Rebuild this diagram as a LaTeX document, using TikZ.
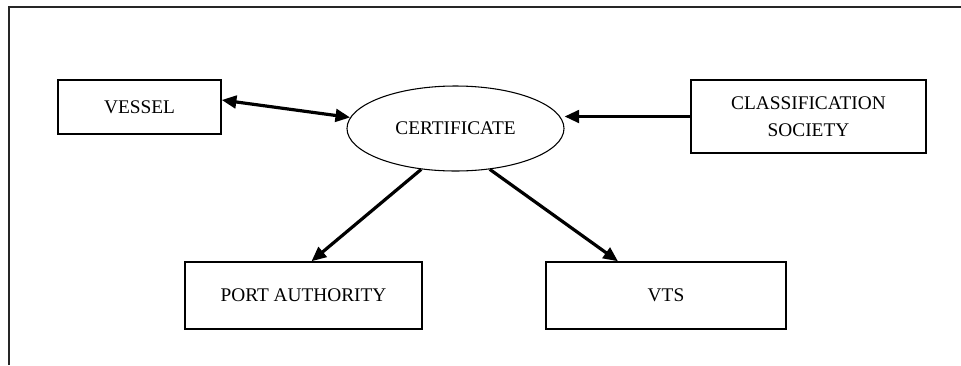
\documentclass[tikz,border=0pt]{standalone}
\usepackage{fontspec}
\setmainfont{Liberation Serif}
\usetikzlibrary{arrows.meta,shapes.geometric}

\tikzset{
  entity/.style={draw, line width=1.1pt, rectangle, align=center,
    font=\fontsize{14.5}{20}\selectfont, inner sep=2pt},
  hub/.style={draw, line width=0.8pt, ellipse, inner sep=0pt,
    font=\fontsize{14.5}{17}\selectfont},
  link/.style={line width=2.4pt, -{Triangle[length=11pt,width=9.5pt]}},
  biglink/.style={line width=2.4pt, {Triangle[length=11pt,width=9.5pt]}-{Triangle[length=11pt,width=9.5pt]}},
  frame/.style={line width=1.4pt, draw=black!85}
}

\begin{document}
\begin{tikzpicture}[x=0.75pt, y=-0.75pt]
  \useasboundingbox (0,0) rectangle (961,365);

  % open outer frame (left and top sides only)
  \draw[frame] (9,365) -- (9,7) -- (961,7);

  % participants
  \node[entity, minimum width=122.25pt, minimum height=40.5pt] (vessel) at (139.5,107) {VESSEL};
  \node[entity, minimum width=176.25pt, minimum height=54.75pt] (class) at (808.5,116.5) {CLASSIFICATION\\SOCIETY};
  \node[hub, minimum width=162.75pt, minimum height=63.75pt] (cert) at (455.5,128.5) {CERTIFICATE};
  \node[entity, minimum width=177.75pt, minimum height=50.25pt] (port) at (303.5,295.5) {PORT AUTHORITY};
  \node[entity, minimum width=180pt, minimum height=50.25pt] (vts) at (666,295.5) {VTS};

  % information flows
  \draw[biglink] ([yshift=5.25pt]vessel.east) -- (cert.174);
  \draw[link] (class.west) -- (class.west -| cert.east);
  \draw[link] (cert.230) -- ([xshift=6pt]port.north);
  \draw[link] (cert.310) -- ([xshift=-36pt]vts.north);
\end{tikzpicture}
\end{document}
